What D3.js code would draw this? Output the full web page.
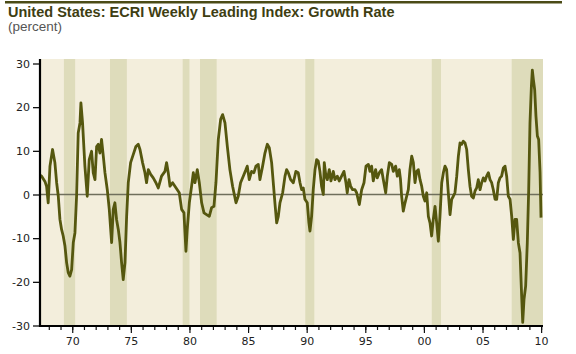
<!DOCTYPE html>
<html>
<head>
<meta charset="utf-8">
<script src="https://cdn.jsdelivr.net/npm/d3@7"></script>
<style>
  body { margin: 0; background: #fff; }
  svg { display: block; }
</style>
</head>
<body>
<div id="chart"></div>
<script>
// ECRI WLI growth rate, [decimal year, percent]; tick "70" sits at mid 1970
const wliGrowth = [
  [1967.76, 4.4], [1967.89, 4.2], [1968.17, 3.0], [1968.31, 1.9], [1968.45, -1.9],
  [1968.60, 6.5], [1968.82, 10.3], [1969.02, 7.3], [1969.17, 2.7], [1969.31, -0.4],
  [1969.45, -5.7], [1969.59, -8.0], [1969.73, -9.5], [1969.88, -11.8], [1970.02, -15.6],
  [1970.16, -17.9], [1970.30, -18.7], [1970.45, -17.2], [1970.59, -11.0], [1970.73, -8.8],
  [1970.87, -0.4], [1971.01, 14.1], [1971.16, 16.4], [1971.24, 21.0], [1971.38, 16.4],
  [1971.58, 6.5], [1971.78, -0.4], [1971.95, 8.0], [1972.15, 9.9], [1972.29, 5.0],
  [1972.44, 3.4], [1972.58, 11.0], [1972.72, 11.5], [1972.86, 9.5], [1973.00, 12.6],
  [1973.15, 8.8], [1973.29, 5.0], [1973.49, 1.1], [1973.66, -3.4], [1973.86, -11.0],
  [1974.00, -3.4], [1974.14, -1.9], [1974.28, -5.7], [1974.43, -8.0], [1974.57, -11.0],
  [1974.71, -15.6], [1974.85, -19.5], [1975.00, -15.6], [1975.14, -5.0], [1975.28, 2.7],
  [1975.48, 7.3], [1975.71, 9.2], [1975.93, 11.0], [1976.13, 11.5], [1976.28, 10.3],
  [1976.50, 7.3], [1976.70, 5.0], [1976.84, 2.7], [1976.99, 5.7], [1977.19, 4.6],
  [1977.41, 3.8], [1977.64, 2.7], [1977.84, 1.5], [1978.12, 4.2], [1978.41, 5.3],
  [1978.55, 7.3], [1978.69, 5.0], [1978.84, 1.9], [1979.06, 2.7], [1979.26, 1.9],
  [1979.46, 1.1], [1979.63, 0.4], [1979.83, -3.4], [1980.03, -4.2], [1980.20, -13.0],
  [1980.31, -8.0], [1980.49, -1.9], [1980.68, 1.9], [1980.83, 5.0], [1980.97, 2.7],
  [1981.17, 5.7], [1981.34, 2.7], [1981.54, -1.9], [1981.74, -4.2], [1981.96, -4.6],
  [1982.19, -5.0], [1982.39, -3.0], [1982.59, -2.7], [1982.76, 2.7], [1982.96, 12.6],
  [1983.16, 17.2], [1983.33, 18.3], [1983.53, 16.4], [1983.73, 11.0], [1983.95, 5.7],
  [1984.18, 1.9], [1984.47, -1.9], [1984.66, -0.4], [1984.86, 2.7], [1985.09, 4.2],
  [1985.32, 5.7], [1985.43, 6.5], [1985.60, 3.4], [1985.80, 5.3], [1986.00, 5.0],
  [1986.17, 6.5], [1986.37, 6.9], [1986.51, 3.4], [1986.74, 6.5], [1986.94, 9.5],
  [1987.14, 11.5], [1987.31, 10.7], [1987.51, 7.3], [1987.65, 2.7], [1987.79, -1.9],
  [1987.94, -6.5], [1988.08, -5.0], [1988.22, -1.9], [1988.45, 0.4], [1988.65, 4.2],
  [1988.79, 5.7], [1988.93, 5.0], [1989.13, 3.4], [1989.36, 2.7], [1989.58, 5.3],
  [1989.78, 5.0], [1989.93, 2.7], [1990.07, 1.1], [1990.21, 1.5], [1990.35, -1.1],
  [1990.55, -1.9], [1990.69, -6.5], [1990.78, -8.4], [1990.92, -5.0], [1991.06, 1.1],
  [1991.21, 5.7], [1991.35, 8.0], [1991.49, 7.6], [1991.63, 5.3], [1991.77, 1.9],
  [1991.92, 0.0], [1992.00, 7.3], [1992.14, 4.2], [1992.26, 3.4], [1992.43, 5.7],
  [1992.57, 3.1], [1992.77, 5.3], [1992.91, 3.4], [1993.11, 4.2], [1993.28, 3.1],
  [1993.48, 4.2], [1993.68, 5.3], [1993.85, 2.7], [1993.96, 0.4], [1994.11, 3.4],
  [1994.25, 1.9], [1994.42, 1.1], [1994.62, 1.1], [1994.76, 0.4], [1994.99, -2.3],
  [1995.19, 1.1], [1995.39, 2.7], [1995.56, 6.5], [1995.76, 6.9], [1995.90, 5.3],
  [1996.04, 6.5], [1996.18, 3.1], [1996.38, 5.7], [1996.52, 3.8], [1996.70, 5.0],
  [1996.89, 5.7], [1997.04, 3.4], [1997.24, 0.4], [1997.38, 4.2], [1997.55, 7.3],
  [1997.75, 6.9], [1997.89, 5.3], [1998.09, 6.5], [1998.23, 4.2], [1998.40, 5.7],
  [1998.50, 3.5], [1998.60, -0.4], [1998.74, -3.8], [1998.89, -1.9], [1999.03, -0.4],
  [1999.17, 1.1], [1999.31, 5.7], [1999.46, 8.8], [1999.60, 7.3], [1999.74, 2.7],
  [1999.88, 5.3], [2000.02, 5.7], [2000.17, 3.4], [2000.31, 1.9], [2000.45, -0.4],
  [2000.59, -1.5], [2000.74, 0.4], [2000.88, -5.0], [2001.02, -6.5], [2001.16, -9.5],
  [2001.30, -5.7], [2001.45, -2.7], [2001.59, -6.5], [2001.73, -10.7], [2001.87, -5.0],
  [2002.02, 2.7], [2002.16, 5.0], [2002.30, 6.5], [2002.44, 5.7], [2002.58, 0.4],
  [2002.73, -4.6], [2002.87, -1.1], [2003.01, -0.4], [2003.15, 0.4], [2003.30, 4.2],
  [2003.44, 8.8], [2003.58, 11.8], [2003.72, 11.5], [2003.86, 12.2], [2004.01, 11.8],
  [2004.15, 10.3], [2004.29, 5.7], [2004.43, 1.9], [2004.57, -0.4], [2004.72, -0.8],
  [2004.86, 0.8], [2005.00, 1.5], [2005.14, 3.4], [2005.29, 1.1], [2005.43, 2.7],
  [2005.57, 3.8], [2005.71, 3.1], [2005.85, 4.2], [2006.00, 5.0], [2006.14, 3.4],
  [2006.28, 2.7], [2006.42, 1.1], [2006.57, -1.1], [2006.71, -1.1], [2006.85, 2.7],
  [2006.99, 3.8], [2007.13, 4.2], [2007.28, 6.1], [2007.42, 6.5], [2007.56, 4.2],
  [2007.70, -0.4], [2007.85, -1.1], [2007.99, -5.0], [2008.13, -10.3], [2008.27, -5.7],
  [2008.41, -5.7], [2008.56, -11.1], [2008.70, -13.4], [2008.84, -23.3], [2008.93, -29.3],
  [2009.04, -24.0], [2009.18, -21.0], [2009.32, -11.1], [2009.44, 1.1], [2009.55, 16.4],
  [2009.67, 24.8], [2009.75, 28.5], [2009.84, 26.3], [2009.95, 24.0], [2010.06, 17.9],
  [2010.18, 13.4], [2010.29, 12.6], [2010.41, 5.0], [2010.49, -5.3]
];

// recession shading (start, end) in decimal years
const recessionStarts = [1969.79, 1973.72, 1979.92, 1981.40, 1990.38, 2001.17, 2007.99];
const recessionEnds   = [1970.75, 1975.16, 1980.50, 1982.82, 1991.15, 2001.96, 2010.66];

const yTicks = [30, 20, 10, 0, -10, -20, -30];
const xTickYears = [1970, 1975, 1980, 1985, 1990, 1995, 2000, 2005, 2010];
const xTickLabels = ['70', '75', '80', '85', '90', '95', '00', '05', '10'];

const titleText = 'United States: ECRI Weekly Leading Index: Growth Rate';
const unitText = '(percent)';

const W = 576, H = 354;
const plotLeft = 40, plotRight = 543, plotTop = 59, plotBottom = 326;

const x = d3.scaleLinear().domain([1967.75, 2010.66]).range([plotLeft, plotRight]);
const y = d3.scaleLinear().domain([-30, 30]).range([325.5, 63.5]);

const svg = d3.select('#chart').append('svg')
  .attr('width', W)
  .attr('height', H);

// header rule + title
svg.append('rect')
  .attr('x', 5).attr('y', 1)
  .attr('width', 557).attr('height', 2.5)
  .attr('fill', '#4b4b16');

const title = svg.append('text')
  .attr('x', 8).attr('y', 16.5)
  .style('font-family', 'Liberation Sans, Arial, sans-serif')
  .style('font-weight', 'bold')
  .style('font-size', '13.5px')
  .attr('fill', '#3e3e12')
  .text(titleText);
// squeeze the title to the reference width
const tw = title.node().getComputedTextLength();
title.style('font-size', (13.5 * 387 / tw) + 'px');

svg.append('text')
  .attr('x', 8).attr('y', 31)
  .style('font-family', 'Liberation Sans, Arial, sans-serif')
  .style('font-size', '13.5px')
  .attr('fill', '#555')
  .text(unitText);

// plot background
svg.append('rect')
  .attr('x', plotLeft).attr('y', plotTop)
  .attr('width', plotRight - plotLeft).attr('height', plotBottom - plotTop)
  .attr('fill', '#f3eedc');

svg.selectAll('.recession')
  .data(recessionStarts)
  .enter().append('rect')
  .attr('class', 'recession')
  .attr('x', d => x(d))
  .attr('y', plotTop)
  .attr('width', (d, i) => x(recessionEnds[i]) - x(d))
  .attr('height', plotBottom - plotTop)
  .attr('fill', '#dedcbb');

// zero line
svg.append('line')
  .attr('x1', plotLeft).attr('x2', plotRight)
  .attr('y1', y(0)).attr('y2', y(0))
  .attr('stroke', '#6f6f5c')
  .attr('stroke-width', 1.5);

const line = d3.line()
  .x(d => x(d[0]))
  .y(d => y(d[1]));

svg.append('path')
  .datum(wliGrowth)
  .attr('d', line)
  .attr('fill', 'none')
  .attr('stroke', '#55570f')
  .attr('stroke-width', 2.8)
  .attr('stroke-linejoin', 'round');

// y axis
const yAxis = d3.axisLeft(y)
  .tickValues(yTicks)
  .tickSize(7)
  .tickPadding(3)
  .tickFormat(d => d);
const gy = svg.append('g')
  .attr('transform', 'translate(' + plotLeft + ',0)')
  .call(yAxis);
gy.select('.domain').remove();
gy.selectAll('line').attr('stroke', '#111').attr('stroke-width', 1.3);
gy.selectAll('text')
  .style('font-family', 'DejaVu Sans, sans-serif')
  .style('font-size', '11px')
  .attr('fill', '#222');

// x axis: minor tick every year, longer ones every five
const minorYears = d3.range(1968, 2011).map(d => d + 0.5);
const gxMinor = svg.append('g')
  .attr('transform', 'translate(0,' + plotBottom + ')')
  .call(d3.axisBottom(x).tickValues(minorYears).tickSize(4).tickFormat(''));
gxMinor.select('.domain').remove();
gxMinor.selectAll('line').attr('stroke', '#111').attr('stroke-width', 1.2);

const gx = svg.append('g')
  .attr('transform', 'translate(0,' + plotBottom + ')')
  .call(d3.axisBottom(x)
    .tickValues(xTickYears.map(d => d + 0.5))
    .tickSize(7)
    .tickPadding(4)
    .tickFormat((d, i) => xTickLabels[i]));
gx.select('.domain').remove();
gx.selectAll('line').attr('stroke', '#111').attr('stroke-width', 1.2);
gx.selectAll('text')
  .style('font-family', 'DejaVu Sans, sans-serif')
  .style('font-size', '11px')
  .attr('fill', '#222');

// axis lines
svg.append('line')
  .attr('x1', plotLeft).attr('x2', plotLeft)
  .attr('y1', plotTop).attr('y2', plotBottom + 1)
  .attr('stroke', '#000').attr('stroke-width', 2.2);
svg.append('line')
  .attr('x1', plotLeft - 1).attr('x2', plotRight)
  .attr('y1', plotBottom).attr('y2', plotBottom)
  .attr('stroke', '#000').attr('stroke-width', 2.2);
</script>
</body>
</html>
